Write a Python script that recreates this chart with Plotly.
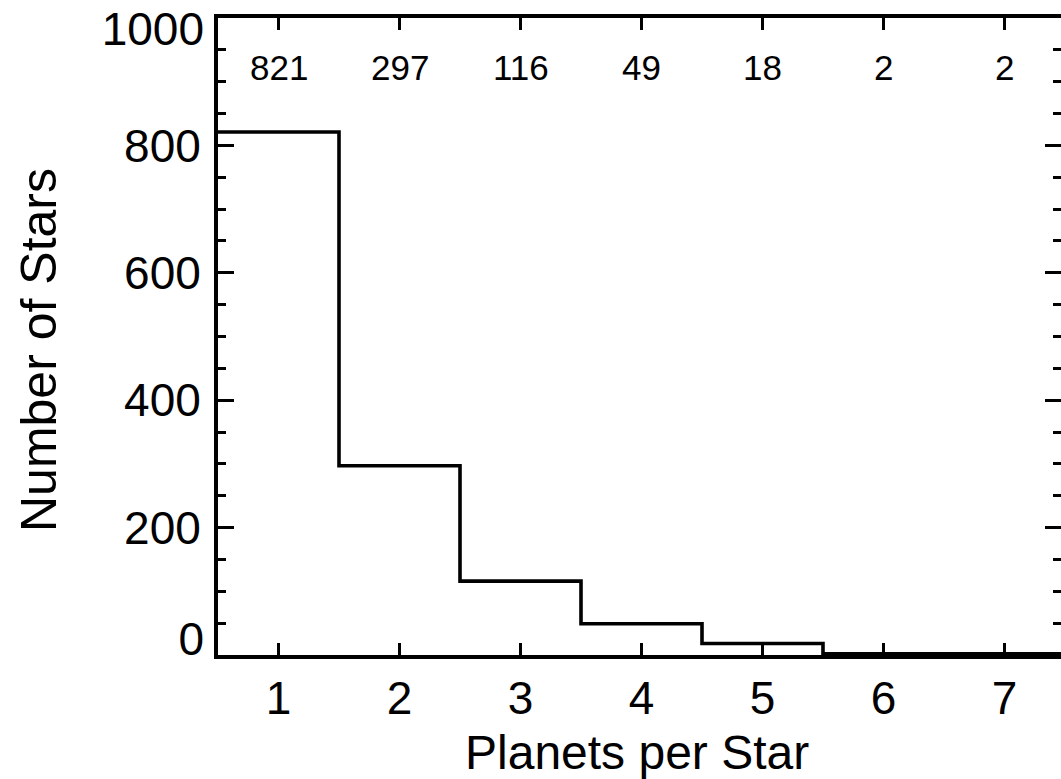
import plotly.graph_objects as go

# Data
planets_per_star = [1, 2, 3, 4, 5, 6, 7]
number_of_stars = [821, 297, 116, 49, 18, 2, 2]
y_major_ticks = [0, 200, 400, 600, 800, 1000]

FONT = "Liberation Sans, Arial, Helvetica, sans-serif"

# step outline: left edges of each bin, plus the final right edge
edges = [p - 0.5 for p in planets_per_star] + [planets_per_star[-1] + 0.5]
step_y = number_of_stars + [number_of_stars[-1]]

fig = go.Figure()
fig.add_trace(go.Scatter(
    x=edges, y=step_y, mode="lines", line=dict(shape="hv", color="black", width=3.6),
    showlegend=False, hoverinfo="skip"))
# dummy traces to instantiate overlay axes
for ax in ["y2", "y3", "y4"]:
    fig.add_trace(go.Scatter(x=[None], y=[None], yaxis=ax, showlegend=False, hoverinfo="skip"))

# count labels
for p, n in zip(planets_per_star, number_of_stars):
    fig.add_annotation(x=p, y=922, xref="x", yref="y", text=str(n), showarrow=False,
                       xanchor="center", yanchor="middle",
                       font=dict(family=FONT, size=35, color="black"))

fig.add_annotation(x=(637 - 218) / 843, y=(655 - 753) / 637, xref="paper", yref="paper",
                   text="Planets per Star", showarrow=False, xanchor="center", yanchor="middle",
                   font=dict(family=FONT, size=48, color="black"))
fig.add_annotation(x=(39 - 218) / 843, y=(655 - 350) / 637, xref="paper", yref="paper",
                   text="Number of Stars", textangle=-90, showarrow=False,
                   xanchor="center", yanchor="middle",
                   font=dict(family=FONT, size=50, color="black"))

yr = [0, 1000]
common_y = dict(range=yr, showgrid=False, zeroline=False, fixedrange=True)

fig.update_layout(
    width=1061, height=779,
    margin=dict(l=218, r=0, t=18, b=124, pad=0),
    paper_bgcolor="white", plot_bgcolor="white",
    font=dict(family=FONT, color="black"),
    xaxis=dict(range=[0.5, 7.467], tickmode="array", tickvals=planets_per_star,
               ticks="inside", ticklen=12, tickwidth=3, tickcolor="black",
               showline=True, linewidth=4, linecolor="black", mirror="ticks",
               showgrid=False, zeroline=False, tickfont=dict(size=46, family=FONT),
               ticklabelstandoff=0),
    yaxis=dict(**common_y, tickmode="array", tickvals=y_major_ticks,
               ticktext=["", "200", "400", "600", "800", ""],
               ticks="inside", ticklen=16, tickwidth=3, tickcolor="black",
               showline=True, linewidth=4, linecolor="black",
               tickfont=dict(size=46, family=FONT), ticklabelstandoff=4,
               minor=dict(dtick=50, ticks="inside", ticklen=8, tickwidth=3, tickcolor="black")),
    yaxis2=dict(**common_y, overlaying="y", side="right", anchor="x",
                tickmode="array", tickvals=y_major_ticks, showticklabels=False,
                ticks="inside", ticklen=16, tickwidth=3, tickcolor="black", showline=False,
                minor=dict(dtick=50, ticks="inside", ticklen=8, tickwidth=3, tickcolor="black")),
    yaxis3=dict(**common_y, overlaying="y", side="left", anchor="x",
                tickmode="array", tickvals=[y_major_ticks[0]], ticktext=[str(y_major_ticks[0])],
                ticks="", showline=False, tickfont=dict(size=46, family=FONT),
                ticklabelstandoff=13, ticklabelshift=-16),
    yaxis4=dict(**common_y, overlaying="y", side="left", anchor="x",
                tickmode="array", tickvals=[y_major_ticks[-1]], ticktext=[str(y_major_ticks[-1])],
                ticks="", showline=False, tickfont=dict(size=46, family=FONT),
                ticklabelstandoff=13, ticklabelshift=11),
)

fig.write_html("out.html")
